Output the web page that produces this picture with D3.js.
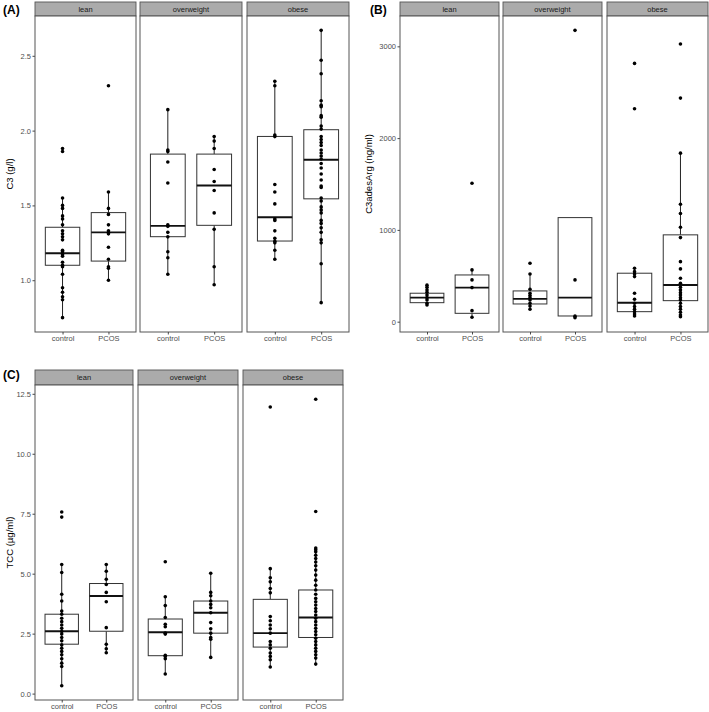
<!DOCTYPE html>
<html>
<head>
<meta charset="utf-8">
<script src="https://cdn.jsdelivr.net/npm/d3@7"></script>
<style>
  html, body { margin: 0; padding: 0; background: #fff; }
  svg { display: block; font-family: "Liberation Sans", Arial, sans-serif; }
</style>
</head>
<body>
<svg id="chart" width="709" height="712"></svg>
<script>
// ---------- data ----------
const bmiGroups = ["lean", "overweight", "obese"];
const diagnoses = ["control", "PCOS"];

// order of groups: lean-control, lean-PCOS, overweight-control, overweight-PCOS, obese-control, obese-PCOS
const c3Points = [
  [1.88,1.86,1.55,1.50,1.48,1.43,1.41,1.37,1.33,1.31,1.29,1.27,1.20,1.19,1.17,1.16,1.12,1.10,1.09,1.04,0.95,0.92,0.89,0.87,0.75],
  [2.30,1.59,1.48,1.44,1.37,1.33,1.32,1.31,1.22,1.14,1.09,1.08,1.00],
  [2.14,1.87,1.86,1.79,1.65,1.37,1.36,1.32,1.29,1.19,1.15,1.04],
  [1.96,1.93,1.88,1.74,1.66,1.60,1.45,1.34,1.09,0.97],
  [2.33,2.30,1.97,1.96,1.64,1.59,1.51,1.41,1.40,1.33,1.28,1.26,1.25,1.20,1.14],
  [2.67,2.47,2.38,2.20,2.17,2.16,2.10,2.09,2.03,2.01,1.96,1.94,1.92,1.90,1.87,1.85,1.83,1.81,1.78,1.75,1.71,1.67,1.63,1.62,1.55,1.53,1.49,1.47,1.45,1.40,1.38,1.35,1.32,1.27,1.25,1.11,0.85]
];
// [lower whisker, Q1, median, Q3, upper whisker]
const c3Boxes = [
  [0.75,1.10,1.18,1.354,1.555],
  [1.00,1.128,1.32,1.452,1.593],
  [1.04,1.291,1.363,1.843,2.145],
  [0.974,1.367,1.633,1.843,1.961],
  [1.141,1.262,1.421,1.961,2.326],
  [0.849,1.544,1.805,2.006,2.672]
];
const c3Ticks = [1.0, 1.5, 2.0, 2.5];
const c3TickLabels = ["1.0", "1.5", "2.0", "2.5"];

const c3aPoints = [
  [398,375,346,321,291,262,237,201,182],
  [1509,564,455,371,120,48],
  [637,520,353,310,285,262,237,201,171,135],
  [3174,455,60,44],
  [2814,2320,582,545,520,491,310,244,201,164,135,109,84,62],
  [3025,2436,1836,1280,1178,1029,916,654,575,473,419,375,346,316,291,262,237,201,164,135,102,73,55]
];
const c3aBoxes = [
  [182,207,262,310,398],
  [48,91,371,509,564],
  [135,193,248,335,520],
  [44,62,262,1134,1134],
  [62,109,207,528,582],
  [55,229,400,946,1836]
];
const c3aTicks = [0, 1000, 2000, 3000];
const c3aTickLabels = ["0", "1000", "2000", "3000"];

const tccPoints = [
  [7.57,7.36,5.38,5.05,4.14,3.86,3.44,3.31,3.14,3.00,2.86,2.72,2.59,2.48,2.34,2.20,2.03,1.89,1.76,1.62,1.45,1.27,1.13,0.33],
  [5.38,5.10,4.77,4.55,4.22,3.83,2.75,2.06,1.87,1.70],
  [5.50,4.04,3.67,3.17,2.89,2.79,2.52,2.48,1.60,1.55,1.45,0.82],
  [5.02,4.22,4.08,3.86,3.72,3.58,3.37,2.96,2.70,2.52,2.34,2.27,1.51],
  [11.95,5.21,4.83,4.66,4.38,4.20,3.21,3.04,2.86,2.70,2.52,2.17,2.03,1.89,1.69,1.55,1.41,1.11],
  [12.27,7.59,6.07,6.00,5.91,5.77,5.63,5.49,5.33,5.15,4.94,4.73,4.52,4.32,4.14,3.97,3.83,3.69,3.55,3.42,3.28,3.14,3.00,2.86,2.72,2.59,2.45,2.31,2.17,2.03,1.89,1.76,1.62,1.48,1.23]
];
const tccBoxes = [
  [0.33,2.06,2.60,3.31,5.38],
  [1.70,2.60,4.07,4.59,5.38],
  [0.82,1.58,2.56,3.11,4.04],
  [1.51,2.52,3.37,3.86,5.02],
  [1.11,1.94,2.52,3.93,5.21],
  [1.23,2.34,3.17,4.32,6.07]
];
const tccTicks = [0, 2.5, 5, 7.5, 10, 12.5];
const tccTickLabels = ["0.0", "2.5", "5.0", "7.5", "10.0", "12.5"];

// ---------- drawing ----------
const svg = d3.select("#chart");
const BORDER = "#555";

function drawFigure(cfg) {
  const g = svg.append("g");
  const allVals = cfg.points.flat();
  const [mn, mx] = d3.extent(allVals);
  const pad = (mx - mn) * 0.05;
  const y = d3.scaleLinear().domain([mn - pad, mx + pad]).range([cfg.bottom, cfg.top]);

  // title
  g.append("text").attr("x", cfg.titleX).attr("y", cfg.titleY)
    .attr("font-size", 12).attr("font-weight", "bold").attr("fill", "#000")
    .text(cfg.title);

  // y axis title
  g.append("text")
    .attr("transform", `translate(${cfg.ylabX},${(cfg.top + cfg.bottom) / 2}) rotate(-90)`)
    .attr("text-anchor", "middle").attr("font-size", 9.5).attr("fill", "#000")
    .text(cfg.ylab);

  // y axis (on first panel)
  const yAxis = d3.axisLeft(y).tickValues(cfg.ticks)
    .tickFormat((d, i) => cfg.tickLabels[i]).tickSize(2.5).tickPadding(1.5);
  const ya = g.append("g").attr("transform", `translate(${cfg.panels[0][0]},0)`).call(yAxis);
  ya.select(".domain").remove();
  ya.selectAll("line").attr("stroke", "#333").attr("stroke-width", 0.9);
  ya.selectAll("text").attr("font-size", 7.5).attr("fill", "#4d4d4d")
    .attr("font-family", "Liberation Sans, Arial, sans-serif");

  bmiGroups.forEach((grp, pi) => {
    const [x0, x1] = cfg.panels[pi];
    const x = d3.scalePoint().domain(diagnoses).range([x0, x1]).padding(0.6);
    const bw = x.step() * 0.75;
    const pg = g.append("g");

    // strip
    pg.append("rect").attr("x", x0).attr("y", cfg.stripTop)
      .attr("width", x1 - x0).attr("height", cfg.top - cfg.stripTop)
      .attr("fill", "#ababab").attr("stroke", BORDER).attr("stroke-width", 0.9);
    pg.append("text").attr("x", (x0 + x1) / 2).attr("y", (cfg.stripTop + cfg.top) / 2 + 2.6)
      .attr("text-anchor", "middle").attr("font-size", 7.5).attr("fill", "#1a1a1a")
      .text(grp);

    // panel background
    pg.append("rect").attr("x", x0).attr("y", cfg.top)
      .attr("width", x1 - x0).attr("height", cfg.bottom - cfg.top)
      .attr("fill", "#fff");

    diagnoses.forEach((dg, di) => {
      const idx = pi * 2 + di;
      const [lo, q1, med, q3, hi] = cfg.boxes[idx];
      const cx = x(dg);
      // whiskers
      pg.append("line").attr("x1", cx).attr("x2", cx).attr("y1", y(hi)).attr("y2", y(q3))
        .attr("stroke", "#222").attr("stroke-width", 1);
      pg.append("line").attr("x1", cx).attr("x2", cx).attr("y1", y(q1)).attr("y2", y(lo))
        .attr("stroke", "#222").attr("stroke-width", 1);
      // box
      pg.append("rect").attr("x", cx - bw / 2).attr("y", y(q3))
        .attr("width", bw).attr("height", y(q1) - y(q3))
        .attr("fill", "#fff").attr("stroke", "#333").attr("stroke-width", 1);
      // median
      pg.append("line").attr("x1", cx - bw / 2).attr("x2", cx + bw / 2)
        .attr("y1", y(med)).attr("y2", y(med))
        .attr("stroke", "#111").attr("stroke-width", 1.9);
      // points
      pg.selectAll(null).data(cfg.points[idx]).enter().append("circle")
        .attr("cx", cx).attr("cy", d => y(d)).attr("r", 1.8).attr("fill", "#000");
    });

    // panel border
    pg.append("rect").attr("x", x0).attr("y", cfg.top)
      .attr("width", x1 - x0).attr("height", cfg.bottom - cfg.top)
      .attr("fill", "none").attr("stroke", BORDER).attr("stroke-width", 1);

    // x axis
    const xa = pg.append("g").attr("transform", `translate(0,${cfg.bottom})`)
      .call(d3.axisBottom(x).tickSize(2.5).tickPadding(1.5));
    xa.select(".domain").remove();
    xa.selectAll("line").attr("stroke", "#333").attr("stroke-width", 0.9);
    xa.selectAll("text").attr("font-size", 7.5).attr("fill", "#4d4d4d")
      .attr("font-family", "Liberation Sans, Arial, sans-serif");
  });
}

drawFigure({
  title: "(A)", titleX: 3, titleY: 14,
  ylab: "C3 (g/l)", ylabX: 13,
  panels: [[35, 136], [140, 242], [247, 349]],
  stripTop: 2, top: 16, bottom: 332,
  points: c3Points, boxes: c3Boxes, ticks: c3Ticks, tickLabels: c3TickLabels
});

drawFigure({
  title: "(B)", titleX: 370, titleY: 14,
  ylab: "C3adesArg (ng/ml)", ylabX: 372,
  panels: [[400, 499], [503, 602], [607, 708]],
  stripTop: 2, top: 16, bottom: 332,
  points: c3aPoints, boxes: c3aBoxes, ticks: c3aTicks, tickLabels: c3aTickLabels
});

drawFigure({
  title: "(C)", titleX: 3, titleY: 379,
  ylab: "TCC (\u00b5g/ml)", ylabX: 13,
  panels: [[35, 133], [138, 238], [243, 343]],
  stripTop: 370, top: 385, bottom: 700,
  points: tccPoints, boxes: tccBoxes, ticks: tccTicks, tickLabels: tccTickLabels
});
</script>
</body>
</html>
